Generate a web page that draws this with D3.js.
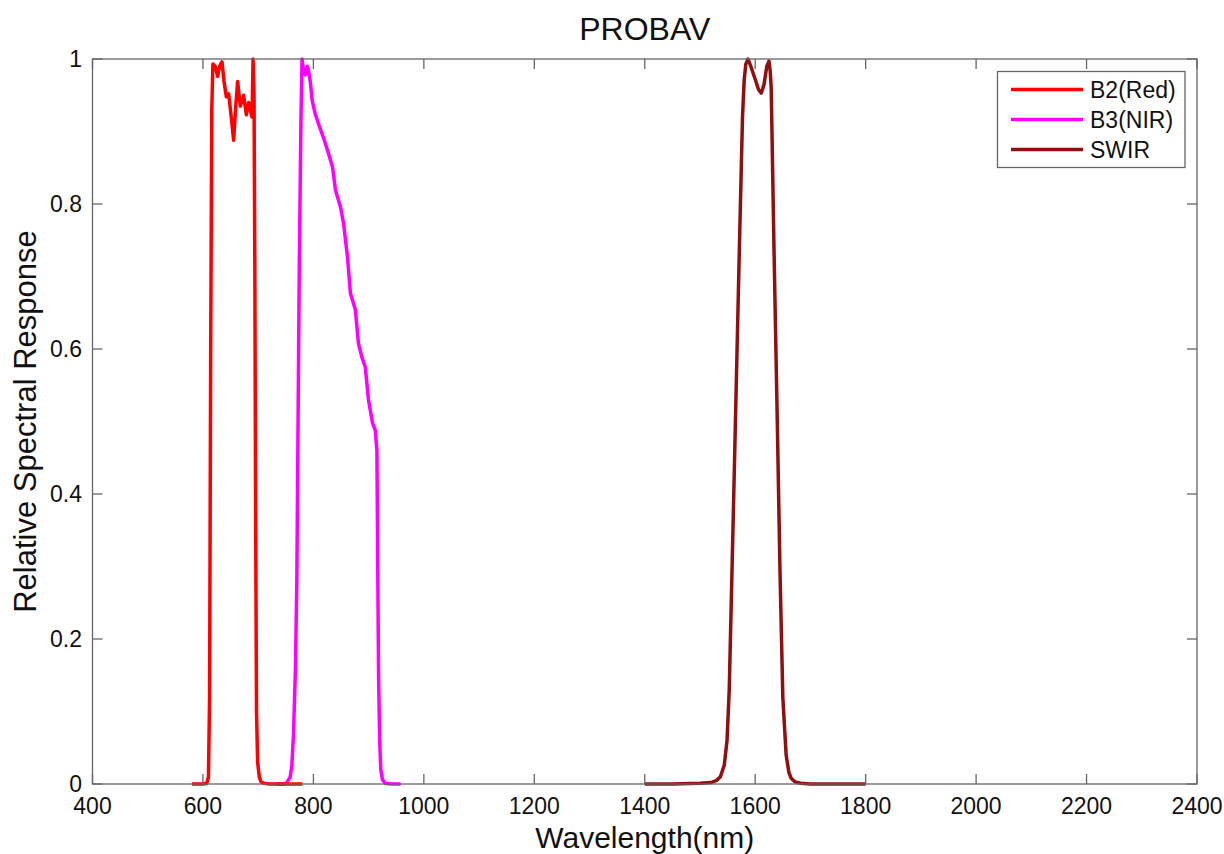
<!DOCTYPE html>
<html>
<head>
<meta charset="utf-8">
<script src="https://d3js.org/d3.v7.min.js"></script>
<style>
  body { margin: 0; background: #fff; }
  text { font-family: "Liberation Sans", Arial, Helvetica, sans-serif; fill: #111; }
</style>
</head>
<body>
<svg id="chart" width="1224" height="854"></svg>
<script>
// band response curves as [wavelength nm, relative response]
let redBand = [[580, 0], [600, 0], [607, 0.001], [610, 0.01], [612, 0.12], [614, 0.6], [616, 0.93], [618, 0.993],
    [622, 0.99], [624, 0.985], [626.5, 0.976], [630, 0.99], [634.5, 0.996], [638, 0.97], [642.3, 0.948],
    [646.5, 0.952], [650.8, 0.923], [655.6, 0.888], [659, 0.93], [662.8, 0.969], [667.7, 0.935],
    [673.7, 0.95], [678.6, 0.923], [682.8, 0.94], [688.9, 0.92], [690.7, 1.0], [692.5, 0.95], [694, 0.7],
    [695.5, 0.35], [697, 0.1], [699, 0.03], [702, 0.01], [705, 0.003], [710, 0.001], [720, 0], [780, 0]];

let nirBand = [[731, 0], [748, 0], [752, 0.002], [758, 0.01], [761, 0.025], [764, 0.07], [767.5, 0.16],
    [770, 0.28], [771.5, 0.43], [774.5, 0.72], [777.5, 0.92], [779.5, 1.0], [782, 0.985], [785.5, 0.978],
    [789, 0.99], [791, 0.985], [794.6, 0.967], [797.7, 0.943], [803, 0.925], [809, 0.911], [818, 0.892],
    [825.6, 0.874], [834.6, 0.851], [840, 0.819], [849, 0.796], [854.5, 0.774], [861.7, 0.727],
    [867, 0.677], [876, 0.654], [881.5, 0.608], [888, 0.588], [894, 0.575], [899.7, 0.53], [907, 0.498],
    [912, 0.488], [915, 0.46], [916.5, 0.3], [918, 0.15], [920, 0.06], [922, 0.02], [925, 0.006],
    [930, 0.001], [940, 0], [958, 0]];

let swirBand = [[1400, 0], [1450, 0], [1500, 0.001], [1520, 0.002], [1530, 0.005], [1537, 0.01], [1544, 0.026],
    [1549, 0.06], [1553, 0.13], [1560, 0.36], [1566, 0.56], [1572, 0.76], [1577, 0.92], [1580, 0.97],
    [1583, 0.993], [1587, 1.0], [1592, 0.99], [1600, 0.972], [1606, 0.958], [1611, 0.953], [1616, 0.965],
    [1621, 0.99], [1625, 0.997], [1627, 0.985], [1629, 0.96], [1634, 0.74], [1640, 0.5], [1645, 0.29],
    [1650, 0.12], [1656, 0.04], [1661, 0.016], [1665, 0.008], [1672, 0.003], [1682, 0.001], [1700, 0], [1800, 0]];

let xTicks = [400, 600, 800, 1000, 1200, 1400, 1600, 1800, 2000, 2200, 2400];
let yTicks = [0, 0.2, 0.4, 0.6, 0.8, 1];
let legendNames = ["B2(Red)", "B3(NIR)", "SWIR"];
let legendColors = ["#ff0000", "#ff00ff", "#8e1010"];

let svg = d3.select("#chart");
let plotLeft = 92.5, plotRight = 1197, plotTop = 59, plotBottom = 784;

let x = d3.scaleLinear().domain([400, 2400]).range([plotLeft, plotRight]);
let y = d3.scaleLinear().domain([0, 1]).range([plotBottom, plotTop]);

let axisColor = "#666";
let tickLen = 10;

// curves (magenta first so the red base sits on top of it)
let line = d3.line()
    .x(function (d) { return x(d[0]); })
    .y(function (d) { return y(d[1]); });

let curves = [
    { data: nirBand, color: legendColors[1] },
    { data: redBand, color: legendColors[0] },
    { data: swirBand, color: legendColors[2] }
];

let plot = svg.append("g");
plot.selectAll("path")
    .data(curves).enter()
    .append("path")
    .attr("fill", "none")
    .attr("stroke", function (d) { return d.color; })
    .attr("stroke-width", 3.5)
    .attr("stroke-linejoin", "round")
    .attr("d", function (d) { return line(d.data); });

// frame
svg.append("rect")
    .attr("x", plotLeft).attr("y", plotTop)
    .attr("width", plotRight - plotLeft).attr("height", plotBottom - plotTop)
    .attr("fill", "none")
    .attr("stroke", axisColor)
    .attr("stroke-width", 1.3);

// x ticks inside, top and bottom
let gx = svg.append("g");
gx.selectAll(".xb").data(xTicks).enter().append("line")
    .attr("class", "xb")
    .attr("x1", function (d) { return x(d); }).attr("x2", function (d) { return x(d); })
    .attr("y1", plotBottom).attr("y2", plotBottom - tickLen)
    .attr("stroke", axisColor).attr("stroke-width", 1.3);
gx.selectAll(".xt").data(xTicks).enter().append("line")
    .attr("class", "xt")
    .attr("x1", function (d) { return x(d); }).attr("x2", function (d) { return x(d); })
    .attr("y1", plotTop).attr("y2", plotTop + tickLen)
    .attr("stroke", axisColor).attr("stroke-width", 1.3);
gx.selectAll("text").data(xTicks).enter().append("text")
    .attr("x", function (d) { return x(d); })
    .attr("y", 814)
    .attr("text-anchor", "middle")
    .attr("font-size", 23)
    .text(function (d) { return d; });

// y ticks inside, left and right
let gy = svg.append("g");
gy.selectAll(".yl").data(yTicks).enter().append("line")
    .attr("class", "yl")
    .attr("x1", plotLeft).attr("x2", plotLeft + tickLen)
    .attr("y1", function (d) { return y(d); }).attr("y2", function (d) { return y(d); })
    .attr("stroke", axisColor).attr("stroke-width", 1.3);
gy.selectAll(".yr").data(yTicks).enter().append("line")
    .attr("class", "yr")
    .attr("x1", plotRight).attr("x2", plotRight - tickLen)
    .attr("y1", function (d) { return y(d); }).attr("y2", function (d) { return y(d); })
    .attr("stroke", axisColor).attr("stroke-width", 1.3);
gy.selectAll("text").data(yTicks).enter().append("text")
    .attr("x", 82)
    .attr("y", function (d) { return y(d) + 8; })
    .attr("text-anchor", "end")
    .attr("font-size", 23)
    .text(function (d) { return d; });

// title and axis labels
svg.append("text")
    .attr("x", (plotLeft + plotRight) / 2).attr("y", 40)
    .attr("text-anchor", "middle")
    .attr("font-size", 32)
    .text("PROBAV");

svg.append("text")
    .attr("x", (plotLeft + plotRight) / 2).attr("y", 848)
    .attr("text-anchor", "middle")
    .attr("font-size", 30)
    .text("Wavelength(nm)");

svg.append("text")
    .attr("transform", "translate(36," + ((plotTop + plotBottom) / 2) + ") rotate(-90)")
    .attr("text-anchor", "middle")
    .attr("font-size", 31)
    .text("Relative Spectral Response");

// legend
let legend = svg.append("g");
legend.append("rect")
    .attr("x", 997.5).attr("y", 71.5)
    .attr("width", 187.5).attr("height", 96)
    .attr("fill", "#fff")
    .attr("stroke", axisColor)
    .attr("stroke-width", 1.3);

let items = legend.selectAll(".item")
    .data(legendNames).enter()
    .append("g")
    .attr("class", "item")
    .attr("transform", function (d, i) { return "translate(0," + (89.5 + i * 30) + ")"; });
items.append("line")
    .attr("x1", 1011).attr("x2", 1083)
    .attr("stroke", function (d, i) { return legendColors[i]; })
    .attr("stroke-width", 3.5);
items.append("text")
    .attr("x", 1090).attr("y", 8)
    .attr("font-size", 23)
    .text(function (d) { return d; });
</script>
</body>
</html>
